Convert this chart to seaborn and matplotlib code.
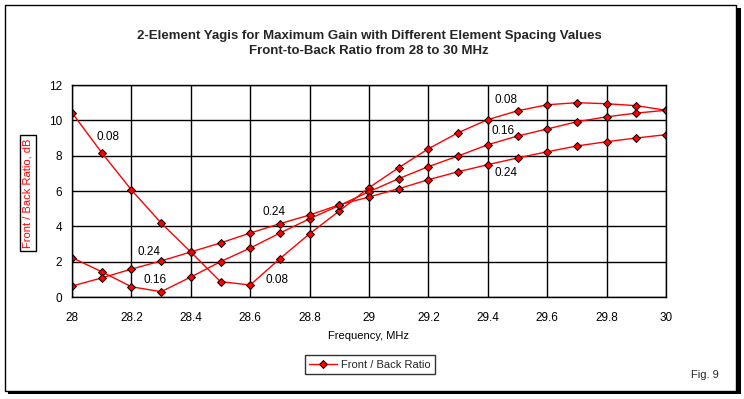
import matplotlib
matplotlib.use("Agg")
import matplotlib.pyplot as plt
import seaborn as sns
import pandas as pd
import numpy as np
from matplotlib.patches import Rectangle
from matplotlib.lines import Line2D

freq = [28.0, 28.1, 28.2, 28.3, 28.4, 28.5, 28.6, 28.7, 28.8, 28.9, 29.0,
        29.1, 29.2, 29.3, 29.4, 29.5, 29.6, 29.7, 29.8, 29.9, 30.0]
fb_008 = [10.43, 8.17, 6.06, 4.19, 2.55, 0.87, 0.68, 2.17, 3.58, 4.87, 6.19,
          7.32, 8.39, 9.30, 10.04, 10.54, 10.88, 11.00, 10.94, 10.83, 10.57]
fb_016 = [2.23, 1.43, 0.58, 0.30, 1.13, 2.00, 2.77, 3.62, 4.43, 5.18, 5.96,
          6.70, 7.38, 7.98, 8.62, 9.11, 9.51, 9.92, 10.20, 10.41, 10.57]
fb_024 = [0.62, 1.08, 1.58, 2.04, 2.55, 3.06, 3.62, 4.15, 4.64, 5.22, 5.66,
          6.13, 6.64, 7.09, 7.49, 7.87, 8.22, 8.55, 8.79, 9.00, 9.19]
spacings = ["0.08", "0.16", "0.24"]
series = [fb_008, fb_016, fb_024]

labels_text = ["0.08", "0.24", "0.16", "0.24", "0.08", "0.08", "0.16", "0.24"]
labels_x = [28.12, 28.26, 28.28, 28.68, 28.69, 29.46, 29.45, 29.46]
labels_y = [9.07, 2.56, 0.96, 4.81, 0.96, 11.15, 9.39, 7.02]

x_ticks = [28, 28.2, 28.4, 28.6, 28.8, 29, 29.2, 29.4, 29.6, 29.8, 30]
x_ticklabels = ["28", "28.2", "28.4", "28.6", "28.8", "29", "29.2", "29.4", "29.6", "29.8", "30"]
y_ticks = [0, 2, 4, 6, 8, 10, 12]

rows = []
for sp, vals in zip(spacings, series):
    for f, v in zip(freq, vals):
        rows.append({"Frequency": f, "FB": v, "Spacing": sp})
df = pd.DataFrame(rows)

sns.set_theme(style="white")
plt.rcParams['font.family'] = ['Liberation Sans', 'DejaVu Sans']

W, H = 744, 399
fig = plt.figure(figsize=(W / 100, H / 100), dpi=100)
ax = fig.add_axes([72 / W, 1 - 297 / H, (666 - 72) / W, (297 - 85) / H])

sns.lineplot(data=df, x="Frequency", y="FB", hue="Spacing",
             palette=["#ff0000"] * 3, marker="D", markersize=4.2,
             markeredgecolor="black", markeredgewidth=0.7,
             linewidth=1.0, ax=ax, legend=False, estimator=None, sort=False)

ax.set_xlim(28, 30)
ax.set_ylim(0, 12)
ax.set_xticks(x_ticks)
ax.set_xticklabels(x_ticklabels)
ax.set_yticks(y_ticks)
ax.grid(True, color="black", linewidth=1.0)
ax.set_axisbelow(True)
for s in ax.spines.values():
    s.set_color("black")
    s.set_linewidth(1.0)
ax.tick_params(axis="both", which="major", direction="out", length=3,
               width=1, color="black", labelsize=8.5, labelcolor="black", pad=4)
ax.tick_params(axis="x", pad=8)
ax.set_xlabel("Frequency, MHz", fontsize=8, color="black", labelpad=5)
ax.set_ylabel("")

for t, x, y in zip(labels_text, labels_x, labels_y):
    ax.text(x, y, t, fontsize=8.5, color="black", ha="center", va="center")

# title
fig.text(369 / W, 1 - 35.5 / H,
         "2-Element Yagis for Maximum Gain with Different Element Spacing Values",
         ha="center", va="center", fontsize=9.5, fontweight="bold",
         family=["Liberation Sans Narrow", "Liberation Sans", "DejaVu Sans"])
fig.text(369 / W, 1 - 51.5 / H, "Front-to-Back Ratio from 28 to 30 MHz",
         ha="center", va="center", fontsize=9.5, fontweight="bold",
         family=["Liberation Sans Narrow", "Liberation Sans", "DejaVu Sans"])

# y label in box
fig.text(28 / W, 1 - 193 / H, "Front / Back Ratio, dB", rotation=90,
         ha="center", va="center", fontsize=8, color="#ff0000",
         bbox=dict(boxstyle="square,pad=0.3", fc="white", ec="black", lw=1))

# legend
h = Line2D([], [], color="#ff0000", lw=1.0, marker="D", markersize=4.2,
           markerfacecolor="#ff0000", markeredgecolor="black", markeredgewidth=0.7)
leg = fig.legend([h], ["Front / Back Ratio"], loc="center",
                 bbox_to_anchor=(370 / W, 1 - 364.5 / H), fontsize=8,
                 frameon=True, fancybox=False, edgecolor="black",
                 handlelength=2.5, handletextpad=0.4, borderpad=0.4)
leg.get_frame().set_linewidth(1.0)

fig.text(705 / W, 1 - 375 / H, "Fig. 9", ha="center", va="center", fontsize=8)

# outer frame with shadow
fig.patches.append(Rectangle((8 / W, 1 - 394 / H), (741 - 8) / W, (394 - 8) / H,
                             transform=fig.transFigure, fc="black", ec="none", zorder=-2))
fig.patches.append(Rectangle((5 / W, 1 - 391 / H), (736 - 5) / W, (391 - 5) / H,
                             transform=fig.transFigure, fc="white", ec="black",
                             lw=1.0, zorder=-1))

fig.savefig("out.png", dpi=100)
